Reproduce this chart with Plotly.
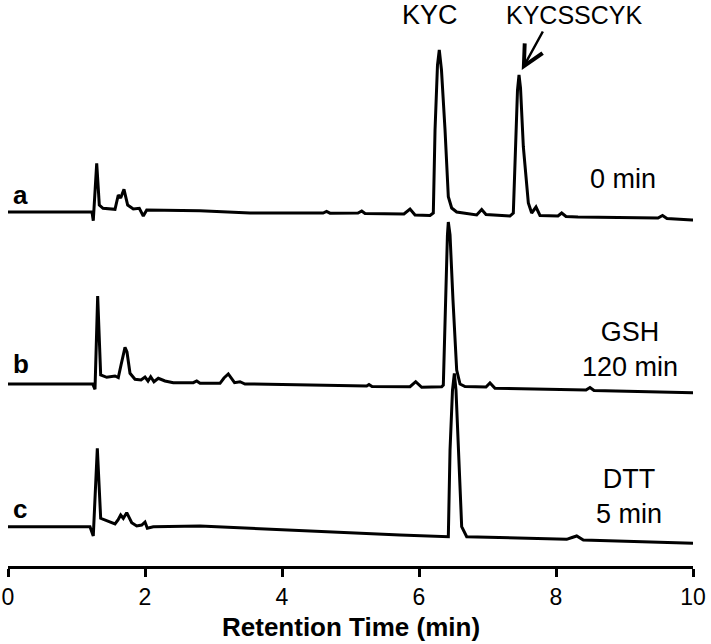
import plotly.graph_objects as go

# Retention time (min) and detector signal (arbitrary units, traces stacked)
time_a = [0, 1.226, 1.245, 1.295, 1.333, 1.387, 1.562, 1.61, 1.645, 1.693, 1.747, 1.829, 1.917, 1.975, 2.025,
          2.803, 3.533, 4.6, 4.65, 4.7, 5.11, 5.164, 5.212, 5.78, 5.869, 5.942, 6.161, 6.209, 6.234, 6.27, 6.296,
          6.328, 6.38, 6.428, 6.477, 6.55, 6.842, 6.915, 6.978, 7.328, 7.377, 7.409, 7.438, 7.46, 7.482, 7.523,
          7.596, 7.645, 7.708, 7.766, 8.029, 8.083, 8.146, 8.321, 9.489, 9.555, 9.62, 9.985, 10]
signal_a = [354, 354, 345.3, 402.7, 361, 357.7, 356.7, 371, 368, 376.7, 361, 357, 357.7, 350, 356,
            355.3, 353, 353, 354.5, 352.8, 353, 355, 352.5, 352, 357, 351, 350.5, 353, 436, 501, 516,
            496, 436, 369.3, 358, 354, 351, 356.5, 351.5, 350, 353, 426, 476, 491, 478, 419.3,
            363, 353, 359, 350.5, 350, 353, 349.5, 349, 348, 350.5, 347.5, 346, 346]

time_b = [0, 1.236, 1.27, 1.309, 1.353, 1.441, 1.562, 1.61, 1.65, 1.708, 1.737, 1.781, 1.854, 1.942, 2.0,
          2.044, 2.083, 2.131, 2.194, 2.292, 2.413, 2.705, 2.755, 2.803, 3.095, 3.153, 3.216, 3.27, 3.307,
          3.387, 3.46, 3.533, 5.236, 5.27, 5.314, 5.869, 5.952, 6.039, 6.331, 6.355, 6.387, 6.415, 6.428,
          6.453, 6.496, 6.55, 6.599, 6.672, 6.978, 7.036, 7.109, 8.438, 8.496, 8.555, 9.996, 10]
signal_b = [182, 182, 176.7, 270, 191, 188.7, 190, 188.5, 201, 218.7, 214, 192.7, 186.7, 186, 189,
            185, 189.3, 184.3, 187.7, 185, 183.3, 183.3, 185, 182.7, 182.7, 188, 192, 187, 183.3,
            184.3, 182, 182, 180, 181.5, 179.5, 179.3, 184.3, 178.7, 179.3, 181, 266, 331, 344,
            331, 266, 196, 182, 179.5, 179, 183, 177.7, 176, 178.5, 175.5, 173.3, 173.3]

time_c = [0, 1.197, 1.245, 1.304, 1.353, 1.441, 1.562, 1.606, 1.645, 1.683, 1.733, 1.806, 1.879, 1.952,
          2.0, 2.034, 2.121, 2.803, 3.533, 4.6, 5.723, 6.428, 6.453, 6.489, 6.516, 6.54, 6.574, 6.623, 6.696,
          8.156, 8.234, 8.302, 8.399, 10]
signal_c = [39.3, 39.3, 30, 117.7, 47.7, 45.3, 42, 46, 51, 47.7, 53.3, 43.3, 40, 41,
            44, 37.7, 39.3, 40, 37.7, 34, 31, 29.3, 116, 176, 192.7, 176, 116, 39.3, 29.3,
            26.7, 28.5, 30, 26, 22.7]

x_ticks = [0, 2, 4, 6, 8, 10]
x_label = "Retention Time (min)"

FONT = "Liberation Sans, Arial, sans-serif"

fig = go.Figure()
for t, s in [(time_a, signal_a), (time_b, signal_b), (time_c, signal_c)]:
    fig.add_trace(go.Scatter(x=t, y=s, mode="lines",
                             line=dict(color="black", width=3), showlegend=False,
                             hoverinfo="skip"))

def label(text, x, y, size=27, bold=False, xanchor="center"):
    fig.add_annotation(x=x, y=y, xref="x", yref="y", text=f"<b>{text}</b>" if bold else text,
                       showarrow=False, xanchor=xanchor, yanchor="middle",
                       font=dict(family=FONT, size=size, color="black"))

label("a", 0.04, 371, size=26, bold=True, xanchor="left")
label("b", 0.04, 202, size=26, bold=True, xanchor="left")
label("c", 0.04, 57, size=26, bold=True, xanchor="left")
label("KYC", 6.16, 551)
label("KYCSSCYK", 8.26, 551, size=25)
label("0 min", 8.98, 387)
label("GSH<br>120 min", 9.08, 217)
label("DTT<br>5 min", 9.07, 70)

fig.add_annotation(x=7.5, y=496, ax=7.82, ay=536, xref="x", yref="y", axref="x", ayref="y",
                   text="", showarrow=True, arrowhead=5, arrowsize=1.6, arrowwidth=2.5,
                   arrowcolor="black", standoff=0)

# x-axis title placed as paper annotation for precise position
fig.add_annotation(x=0.5, y=-0.108, xref="paper", yref="paper",
                   text=f"<b>{x_label}</b>", showarrow=False, xanchor="center", yanchor="middle",
                   font=dict(family=FONT, size=26, color="black"))

fig.update_layout(
    width=711, height=644,
    margin=dict(l=8, r=18, t=5, b=78),
    paper_bgcolor="white", plot_bgcolor="white",
    font=dict(family=FONT, color="black"),
    xaxis=dict(range=[0, 10], tickvals=x_ticks, ticks="outside", ticklen=8, tickwidth=3,
               tickcolor="black", showline=True, linecolor="black", linewidth=3,
               showgrid=False, zeroline=False, automargin=False,
               tickfont=dict(family=FONT, size=23, color="black")),
    yaxis=dict(range=[0, 561], visible=False, showgrid=False, zeroline=False, automargin=False),
)

fig.write_html("out.html", config={"displayModeBar": False},
               post_script="document.body.style.margin='0';")
